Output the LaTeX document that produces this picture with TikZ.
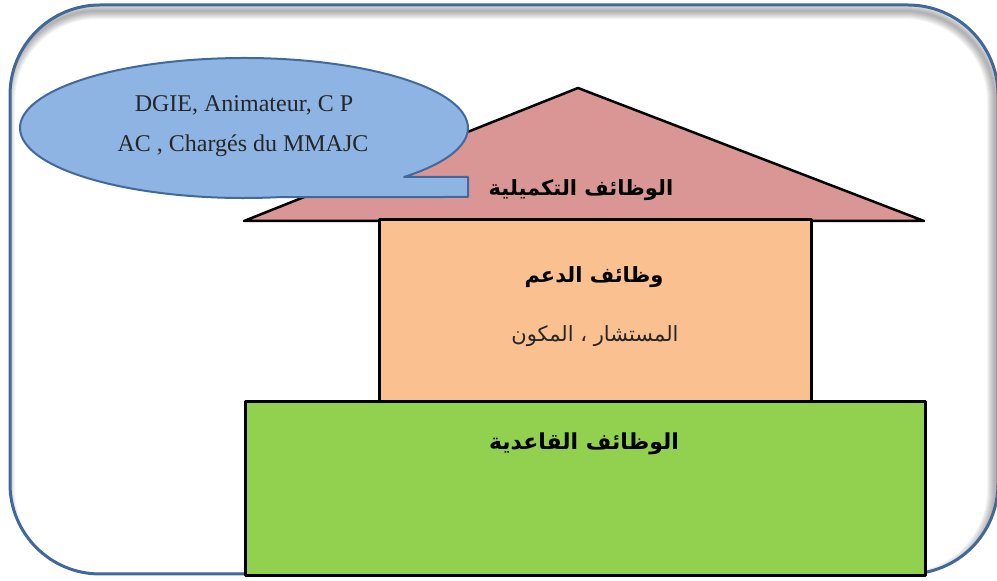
\documentclass[tikz,border=0pt]{standalone}
\usepackage{fontspec}
\setmainfont{Liberation Serif}
\newfontfamily\arabicfont[Script=Arabic]{DejaVu Sans}
\TeXXeTstate=1
\begin{document}
\begin{tikzpicture}[x=1pt,y=1pt,
  framecol/.style={draw=frameblue, line width=3pt},
  block/.style={draw=black, line width=2.5pt, line join=round},
  latintxt/.style={font=\fontsize{24}{28}\selectfont, text=black!85},
  headtxt/.style={font=\arabicfont\bfseries\fontsize{21}{25}\selectfont},
  subtxt/.style={font=\arabicfont\fontsize{21}{25}\selectfont, text=black!85}]
\definecolor{frameblue}{HTML}{41689A}
\definecolor{calloutfill}{HTML}{8EB4E3}
\definecolor{calloutline}{HTML}{41699B}
\definecolor{rooffill}{HTML}{D99694}
\definecolor{wallfill}{HTML}{FAC090}
\definecolor{basefill}{HTML}{92D050}

\useasboundingbox (0,0) rectangle (997,581);

% outer panel with a soft inner shadow along its upper edge
\begin{scope}
  \clip[rounded corners=90pt] (10,7) rectangle (998,576);
  \foreach \k in {1,...,8}
    \draw[black, opacity=0.045, line width=2*\k pt, rounded corners=90pt]
      ([shift={(-3,-6)}]10,7) rectangle ([shift={(-3,-6)}]998,576);
\end{scope}
\draw[framecol, rounded corners=90pt] (10,7) rectangle (998,576);

% roof
\coordinate (apex) at (578,493);
\coordinate (eaveL) at (244,360);
\coordinate (eaveR) at (924,360);
\filldraw[block, fill=rooffill] (eaveL) -- (apex) -- (eaveR) -- cycle;

% walls
\node[block, fill=wallfill, minimum width=432pt, minimum height=182pt,
      inner sep=0pt, anchor=south west] (wall) at (378,178) {};
% foundation
\node[block, fill=basefill, minimum width=680pt, minimum height=174pt,
      inner sep=0pt, anchor=south west] (base) at (244,4) {};

% speech bubble
\filldraw[fill=calloutfill, draw=calloutline, line width=2pt, line join=round]
  (280.97,383.96) arc[start angle=-80.5, end angle=-404.4,
                      x radius=224pt, y radius=70pt]
  -- (468,404) -- (468,384) -- cycle;
\coordinate (bubble) at (244,453);

% labels
\node[latintxt] (who1) at (244,476) {DGIE, Animateur, C P};
\node[latintxt] (who2) at (243,435) {AC , Chargés du MMAJC};
\node[headtxt] (roofl) at (581,391) {\beginR الوظائف التكميلية\endR};
\node[headtxt] (walll) at (594,304) {\beginR وظائف الدعم\endR};
\node[subtxt] (wallsub) at (595,245) {\beginR المستشار ، المكون\endR};
\node[headtxt, font=\arabicfont\bfseries\fontsize{22}{26}\selectfont]
  (basel) at (584,137) {\beginR الوظائف القاعدية\endR};
\end{tikzpicture}
\end{document}
